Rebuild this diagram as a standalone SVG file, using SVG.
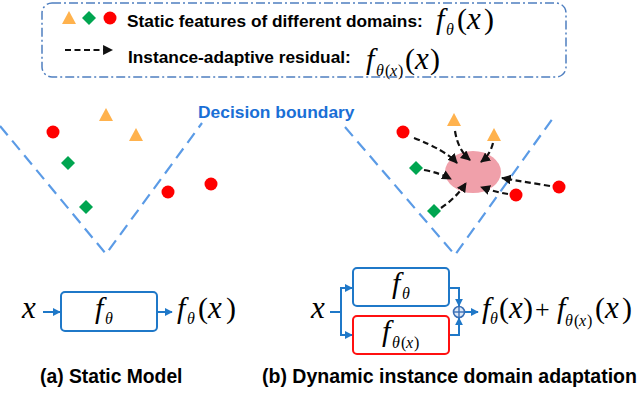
<svg xmlns="http://www.w3.org/2000/svg" width="640" height="393" viewBox="0 0 640 393">
<defs>
<style>
.lbl{font-family:"Liberation Sans",Arial,sans-serif;font-weight:bold;fill:#000}
.math{font-family:"Liberation Serif","Times New Roman","DejaVu Serif",serif;font-style:italic;font-size:30px;fill:#000}
.xv{font-size:31px}
.sub{font-size:16px}
.up{font-style:normal}
.bnd{fill:none;stroke:#5b9be6;stroke-width:2.2;stroke-dasharray:12 7}
.dash{fill:none;stroke:#111;stroke-width:2.2;stroke-dasharray:6 3.5}
.tri{fill:#ffb24d}
.dia{fill:#00a550}
.dot{fill:#ff0000}
.blue{fill:none;stroke:#1f78c8;stroke-width:2}
</style>
<marker id="ah" viewBox="0 0 10 10" refX="9" refY="5" markerWidth="4.5" markerHeight="4.5" orient="auto" markerUnits="strokeWidth">
<path d="M0,0 L10,5 L0,10 z" fill="#111"/>
</marker>
<marker id="ab" viewBox="0 0 10 10" refX="9" refY="5" markerWidth="4" markerHeight="4" orient="auto" markerUnits="strokeWidth">
<path d="M0,0 L10,5 L0,10 z" fill="#1f78c8"/>
</marker>
</defs>

<g id="legend">
<rect x="42" y="3" width="524" height="74" rx="10" fill="none" stroke="#4f7fc0" stroke-width="1.5" stroke-dasharray="9 3 2 3"/>
<polygon class="tri" points="69,11 76,24 62,24"/>
<polygon class="dia" points="89,11 96,18 89,25 82,18"/>
<circle class="dot" cx="110" cy="18" r="6.5"/>
<text class="lbl" x="127" y="26.5" font-size="17.3">Static features of different domains:</text>
<text class="math" y="29"><tspan x="436">f</tspan><tspan class="sub" x="446" y="35">θ</tspan><tspan class="up" x="457" y="29">(</tspan><tspan class="xv" x="467">x</tspan><tspan class="up" x="484">)</tspan></text>
<line class="dash" x1="65" y1="50" x2="112" y2="50" marker-end="url(#ah)"/>
<text class="lbl" x="128" y="63" font-size="17.3">Instance-adaptive residual:</text>
<text class="math" y="69"><tspan x="366">f</tspan><tspan class="sub" x="376" y="76">θ</tspan><tspan class="sub up" x="385">(</tspan><tspan class="sub" x="390">x</tspan><tspan class="sub up" x="398">)</tspan><tspan class="up" x="405" y="69">(</tspan><tspan class="xv" x="415">x</tspan><tspan class="up" x="430">)</tspan></text>
</g>

<g id="left-boundary">
<polyline class="bnd" points="0,126 106,254 202,123"/>
</g>
<g id="left-points">
<circle class="dot" cx="53" cy="132" r="6.5"/>
<polygon class="tri" points="106,108 113,121 99,121"/>
<polygon class="tri" points="136,128 143,141 129,141"/>
<polygon class="dia" points="68,156 75,163 68,170 61,163"/>
<polygon class="dia" points="86,200 93,207 86,214 79,207"/>
<circle class="dot" cx="168" cy="192" r="6.5"/>
<circle class="dot" cx="211" cy="184" r="6.5"/>
</g>

<g id="decision-label">
<text class="lbl" x="198" y="118" font-size="17.4" style="fill:#1a6fd6">Decision boundary</text>
</g>

<g id="right-boundary">
<polyline class="bnd" points="345,127 455,255 553,118"/>
</g>
<g id="right-points">
<ellipse cx="473" cy="172" rx="28" ry="21" fill="#f0a0aa"/>
<circle class="dot" cx="403" cy="132" r="6.5"/>
<polygon class="tri" points="454,113 461,126 447,126"/>
<polygon class="tri" points="494,128 501,141 487,141"/>
<polygon class="dia" points="416,161 423,168 416,175 409,168"/>
<polygon class="dia" points="434,204 441,211 434,218 427,211"/>
<circle class="dot" cx="516" cy="195" r="6.5"/>
<circle class="dot" cx="559" cy="187" r="6.5"/>
</g>

<g id="connectors">
<path class="dash" d="M414,138 Q445,150 457,163" marker-end="url(#ah)"/>
<path class="dash" d="M455,131 Q458,150 470,160" marker-end="url(#ah)"/>
<path class="dash" d="M493,143 Q490,155 481,162" marker-end="url(#ah)"/>
<path class="dash" d="M424,170 Q440,173 451,179" marker-end="url(#ah)"/>
<path class="dash" d="M441,208 Q456,198 466,183" marker-end="url(#ah)"/>
<path class="dash" d="M508,194 Q495,192 481,187" marker-end="url(#ah)"/>
<path class="dash" d="M550,186 Q525,182 502,178" marker-end="url(#ah)"/>

<line class="blue" x1="43" y1="312" x2="60" y2="312" marker-end="url(#ab)"/>
<line class="blue" x1="158" y1="312" x2="172" y2="312" marker-end="url(#ab)"/>

<polyline class="blue" points="330,312 341,312"/>
<polyline class="blue" points="341,288 341,335"/>
<line class="blue" x1="340" y1="288" x2="352" y2="288" marker-end="url(#ab)"/>
<line class="blue" x1="340" y1="335" x2="352" y2="335" marker-end="url(#ab)"/>
<polyline class="blue" points="450,288 459,288 459,306" marker-end="url(#ab)"/>
<polyline class="blue" points="450,335 459,335 459,318" marker-end="url(#ab)"/>
<line class="blue" x1="465" y1="312" x2="478" y2="312" marker-end="url(#ab)"/>
</g>

<g id="static-model">
<text class="math xv" x="22" y="318">x</text>
<rect class="blue" x="61" y="292" width="96" height="39" rx="4"/>
<text class="math" y="318"><tspan x="95">f</tspan><tspan class="sub" x="105" y="324">θ</tspan></text>
<text class="math" y="318"><tspan x="177">f</tspan><tspan class="sub" x="187" y="324">θ</tspan><tspan class="up" x="198" y="318">(</tspan><tspan class="xv" x="208">x</tspan><tspan class="up" x="226">)</tspan></text>
</g>

<g id="dynamic-model">
<text class="math xv" x="311" y="318">x</text>
<rect class="blue" x="353" y="268" width="96" height="38" rx="4"/>
<text class="math" y="293"><tspan x="392">f</tspan><tspan class="sub" x="402" y="299">θ</tspan></text>
<rect x="353" y="316" width="96" height="38" rx="4" fill="none" stroke="#ff1010" stroke-width="2"/>
<text class="math" y="341"><tspan x="382">f</tspan><tspan class="sub" x="392" y="348">θ</tspan><tspan class="sub up" x="401">(</tspan><tspan class="sub" x="406">x</tspan><tspan class="sub up" x="414">)</tspan></text>
<circle cx="459" cy="312" r="5.5" fill="#dfe9f7" stroke="#3a6fb5" stroke-width="1.6"/>
<line x1="453.5" y1="312" x2="464.5" y2="312" stroke="#3a6fb5" stroke-width="1.4"/>
<line x1="459" y1="306.5" x2="459" y2="317.5" stroke="#3a6fb5" stroke-width="1.4"/>
<text class="math" y="318"><tspan x="482">f</tspan><tspan class="sub" x="490" y="324">θ</tspan><tspan class="up" x="499" y="318">(</tspan><tspan class="xv" x="509">x</tspan><tspan class="up" x="523">)</tspan><tspan class="up" x="535" font-size="26">+</tspan><tspan x="557">f</tspan><tspan class="sub" x="565" y="326">θ</tspan><tspan class="sub up" x="574">(</tspan><tspan class="sub" x="579">x</tspan><tspan class="sub up" x="587">)</tspan><tspan class="up" x="595" y="318">(</tspan><tspan class="xv" x="605">x</tspan><tspan class="up" x="622">)</tspan></text>
</g>

<g id="captions">
<text class="lbl" x="40" y="383" font-size="19.3">(a) Static Model</text>
<text class="lbl" x="262" y="383" font-size="19.5">(b) Dynamic instance domain adaptation</text>
</g>
</svg>
